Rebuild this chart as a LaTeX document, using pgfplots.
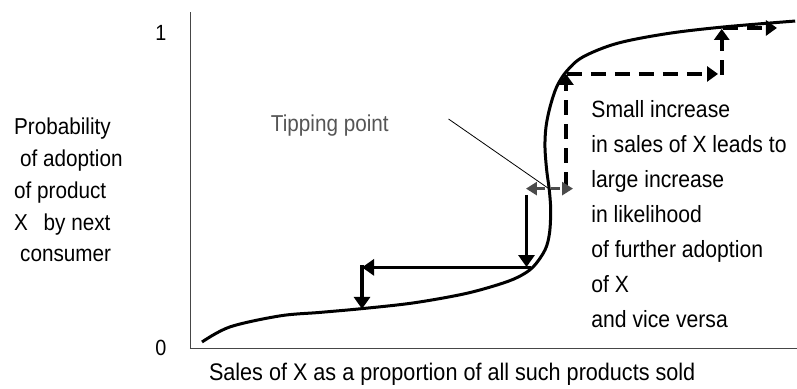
\documentclass[border=0pt]{standalone}
\usepackage{fontspec}
\setmainfont{Liberation Sans}[FakeStretch=0.9]
\usepackage{pgfplots}
\pgfplotsset{compat=1.18}
\usetikzlibrary{arrows.meta}

\definecolor{axisgray}{RGB}{70,70,70}
\definecolor{tipgray}{RGB}{85,85,85}
\definecolor{arrgray}{RGB}{75,75,75}

\begin{document}
\begin{tikzpicture}
\begin{axis}[
  scale only axis,
  width=607pt, height=336pt,
  xmin=0, xmax=100,
  ymin=0, ymax=1.0667,
  axis lines=left,
  axis line style={-, draw=axisgray, line width=0.9pt},
  xtick=\empty,
  ytick={0,1},
  yticklabels={0,1},
  major tick length=0pt,
  yticklabel style={font=\fontsize{22}{22}\selectfont, anchor=center, xshift=-29pt},
  clip=false,
  xlabel={Sales of X as a proportion of all such products sold},
  every axis x label/.style={at={(axis cs:3.1,-0.1016)}, anchor=base west,
    inner sep=0pt, font=\fontsize{24}{24}\selectfont},
  ylabel={Probability\\\hspace*{6pt}of adoption\\of product\\X\hspace{10pt} by next\\\hspace*{6pt}consumer},
  every axis y label/.style={at={(axis cs:-29.0,0.730)}, anchor=north west,
    rotate=0, align=left, inner sep=0pt, font=\fontsize{23}{31.75}\selectfont},
]
% S-shaped adoption curve
\addplot[black, line width=3pt, smooth, tension=0.55] coordinates {
  (1.98,0.019) (6.59,0.067) (14.83,0.102) (21.42,0.113) (28.34,0.125)
  (36.74,0.143) (44.98,0.171) (50.58,0.200) (54.04,0.225) (56.51,0.257)
  (58.48,0.311) (59.23,0.365) (59.42,0.438) (59.19,0.502) (58.76,0.565)
  (58.48,0.638) (58.65,0.702) (59.31,0.765) (60.41,0.829) (62.06,0.879)
  (64.74,0.924) (70.35,0.967) (78.58,0.998) (87.81,1.019) (99.7,1.038)
};
% solid arrows: downward spiral
\addplot[black, line width=3.5pt, -{Triangle[width=16pt,length=12pt]}]
  coordinates {(55.44,0.486) (55.44,0.257)};
\addplot[black, line width=3.5pt, -{Triangle[width=16pt,length=12pt]}]
  coordinates {(56.18,0.256) (28.34,0.256)};
\addplot[black, line width=3.5pt, -{Triangle[width=16pt,length=12pt]}]
  coordinates {(28.34,0.262) (28.34,0.124)};
% dashed arrows: upward spiral
\addplot[black, line width=4pt, dash pattern=on 15pt off 9pt, -{Triangle[width=15pt,length=11pt]}]
  coordinates {(61.94,0.512) (61.94,0.870)};
\addplot[black, line width=4pt, dash pattern=on 15pt off 9pt, -{Triangle[width=15pt,length=11pt]}]
  coordinates {(62.10,0.870) (86.99,0.870)};
\addplot[black, line width=4pt, dash pattern=on 15pt off 9pt, -{Triangle[width=15pt,length=11pt]}]
  coordinates {(87.60,0.867) (87.60,1.013)};
\addplot[black, line width=4pt, dash pattern=on 15pt off 9pt, -{Triangle[width=15pt,length=11pt]}]
  coordinates {(87.80,1.016) (96.70,1.016)};
% tipping point double arrow
\addplot[arrgray, line width=3pt, dash pattern=on 9pt off 6pt,
  {Triangle[width=13pt,length=11pt]}-{Triangle[width=13pt,length=11pt]}]
  coordinates {(55.35,0.506) (63.10,0.506)};
% pointer line
\addplot[black, line width=0.8pt] coordinates {(42.59,0.727) (59.03,0.507)};

\node[anchor=north west, inner sep=0pt, text=tipgray, font=\fontsize{23}{23}\selectfont]
  at (axis cs:13.3,0.740) {Tipping point};
\node[anchor=north west, inner sep=0pt, align=left, font=\fontsize{23.5}{35}\selectfont]
  at (axis cs:66.1,0.785) {Small increase\\in sales of X leads to\\large increase\\in likelihood\\of further adoption\\of X\\and vice versa};

\coordinate (bl) at (axis cs:-31.30,-0.127);
\coordinate (tr) at (axis cs:100,1.1048);
\end{axis}
\pgfresetboundingbox
\path[use as bounding box] (bl) rectangle (tr);
\end{tikzpicture}
\end{document}
